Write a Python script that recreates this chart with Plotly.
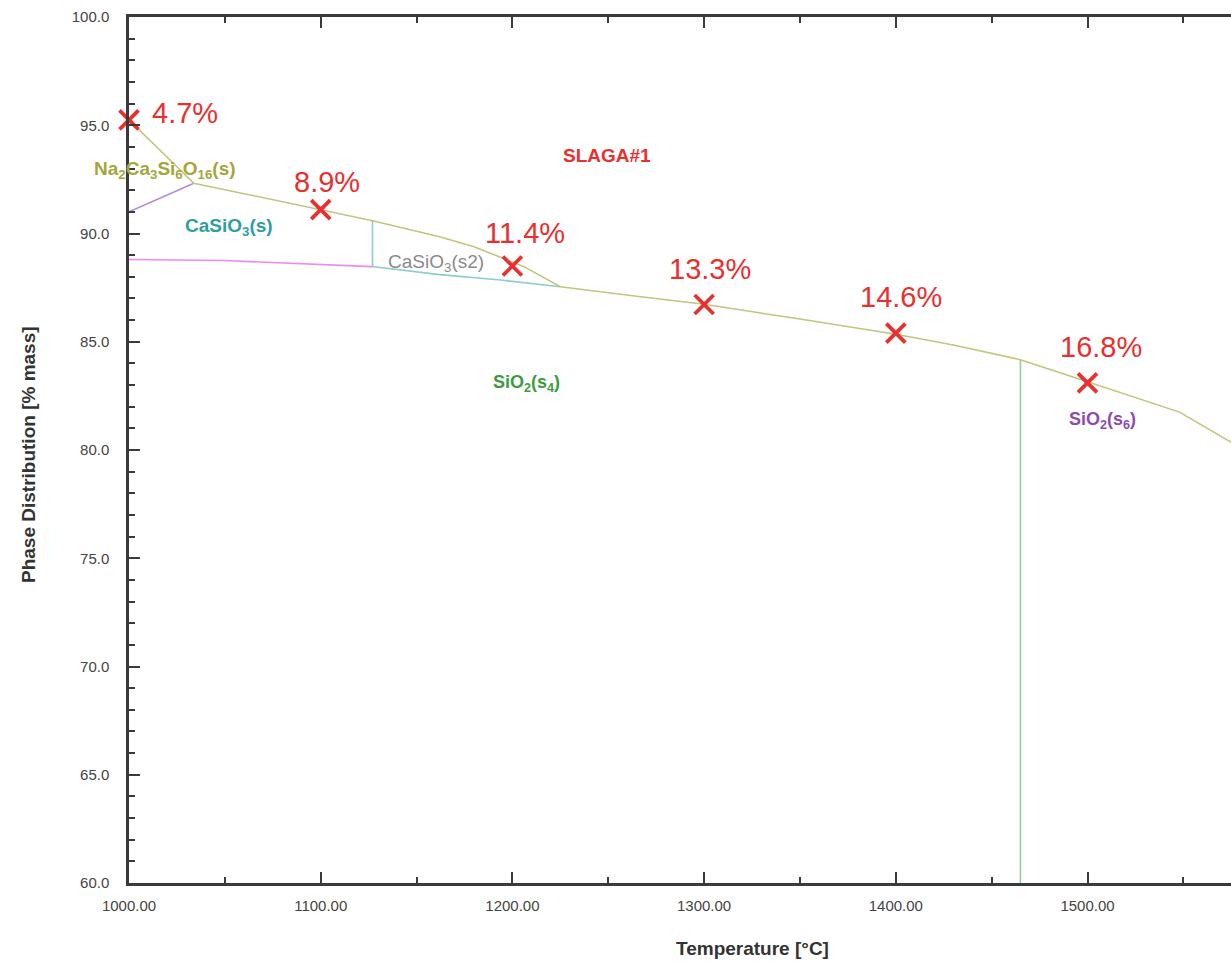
import plotly.graph_objects as go

# ---------------- data ----------------
# main (olive) boundary curve
olive_T = [1000, 1033.8, 1100, 1127, 1162, 1180, 1206, 1225, 1267, 1300, 1350, 1400, 1430, 1465, 1500, 1548, 1575]
olive_V = [95.25, 92.32, 91.10, 90.59, 89.85, 89.39, 88.47, 87.54, 87.08, 86.73, 86.05, 85.35, 84.85, 84.17, 83.15, 81.75, 80.35]

# purple segment
purple_T = [1000, 1033.8]
purple_V = [91.0, 92.32]

# magenta segment
magenta_T = [1000, 1050, 1127]
magenta_V = [88.8, 88.75, 88.47]

# cyan vertical + lower cyan boundary
cyan_T = [1127, 1127, 1162, 1194, 1225]
cyan_V = [90.59, 88.47, 88.10, 87.85, 87.54]

# green vertical boundary
green_T = [1465, 1465]
green_V = [84.17, 60.0]

# red X markers and their percentage labels
mark_T = [1000, 1100, 1200, 1300, 1400, 1500]
mark_V = [95.25, 91.10, 88.50, 86.72, 85.40, 83.10]
mark_L = ["4.7%", "8.9%", "11.4%", "13.3%", "14.6%", "16.8%"]

# region labels
region_text = ["Na<sub>2</sub>Ca<sub>3</sub>Si<sub>6</sub>O<sub>16</sub>(s)",
               "CaSiO<sub>3</sub>(s)",
               "CaSiO<sub>3</sub>(s2)",
               "SLAGA#1",
               "SiO<sub>2</sub>(s<sub>4</sub>)",
               "SiO<sub>2</sub>(s<sub>6</sub>)"]
region_T = [1019, 1052, 1160, 1249.6, 1207.4, 1508]
region_V = [92.93, 90.30, 88.64, 93.58, 83.05, 81.38]

x_tick_vals = [1000, 1100, 1200, 1300, 1400, 1500]
y_tick_vals = [60, 65, 70, 75, 80, 85, 90, 95, 100]

# ---------------- figure ----------------
W, H = 1231, 963
ML, MR, MT, MB = 129, 0, 17, 80
FONT = "Liberation Sans, Arial, sans-serif"
RED = "#e8302f"

fig = go.Figure()

def line(x, y, color, width=1.6):
    fig.add_trace(go.Scatter(x=x, y=y, mode="lines", line=dict(color=color, width=width),
                             hoverinfo="skip", showlegend=False))

line(magenta_T, magenta_V, "#ee8aee")
line(purple_T, purple_V, "#b48ad6")
line(cyan_T, cyan_V, "#8fcccc")
line(green_T, green_V, "#92d092")
line(olive_T, olive_V, "#c4c47e")

fig.add_trace(go.Scatter(
    x=mark_T, y=mark_V, mode="markers",
    marker=dict(symbol="x-thin", size=19, line=dict(width=3.8, color=RED)),
    cliponaxis=False, hoverinfo="skip", showlegend=False))

# percentage labels
offsets = [(56, 7), (6, 28), (13, 33), (6, 36), (5, 36), (13, 36)]
for t, v, lab, (dx, dy) in zip(mark_T, mark_V, mark_L, offsets):
    fig.add_annotation(x=t, y=v, text=lab, showarrow=False, xshift=dx, yshift=dy,
                       xanchor="center", yanchor="middle",
                       font=dict(family=FONT, size=29, color=RED))

region_styles = [
    dict(color="#a5a53e", size=19, bold=True),
    dict(color="#2f9e9e", size=19, bold=True),
    dict(color="#8a8a8a", size=19, bold=False),
    dict(color=RED, size=19, bold=True),
    dict(color="#3c9c3c", size=18, bold=True),
    dict(color="#8e4aae", size=18, bold=True),
]
for txt, t, v, st in zip(region_text, region_T, region_V, region_styles):
    fig.add_annotation(x=t, y=v, text=txt, showarrow=False, xanchor="center", yanchor="middle",
                       font=dict(family=FONT, size=st["size"], color=st["color"],
                                 weight="bold" if st["bold"] else "normal"))

plot_h = H - MT - MB
plot_w = W - ML - MR
# axis titles
fig.add_annotation(xref="paper", yref="paper", x=(752 - ML) / plot_w, y=-(948 - (H - MB)) / plot_h,
                   text="Temperature [°C]", showarrow=False, xanchor="center", yanchor="middle",
                   font=dict(family=FONT, size=19, color="#333333", weight="bold"))
fig.add_annotation(xref="paper", yref="paper", x=(28 - ML) / plot_w, y=((H - MB) - 455) / plot_h,
                   text="Phase Distribution [% mass]", showarrow=False, textangle=-90,
                   xanchor="center", yanchor="middle",
                   font=dict(family=FONT, size=19, color="#333333", weight="bold"))

axis_common = dict(showgrid=False, zeroline=False, showline=True, linecolor="#3a3a3a", linewidth=2.5,
                   ticks="inside", tickcolor="#3a3a3a", tickwidth=2, ticklen=11,
                   tickfont=dict(family=FONT, size=15, color="#444444"))

fig.update_xaxes(range=[1000, 1000 + plot_w / 1.917], tickvals=x_tick_vals,
                 ticktext=[f"{v:.2f}" for v in x_tick_vals], mirror="ticks",
                 minor=dict(dtick=50, tick0=1000, ticks="inside", ticklen=6, tickwidth=2, tickcolor="#3a3a3a"),
                 ticklabelstandoff=7, **axis_common)
fig.update_yaxes(range=[60, 100], tickvals=y_tick_vals,
                 ticktext=[f"{v:.1f}" for v in y_tick_vals], mirror=False,
                 minor=dict(dtick=1, tick0=60, ticks="inside", ticklen=6, tickwidth=2, tickcolor="#3a3a3a"),
                 ticklabelstandoff=14, **axis_common)

fig.update_layout(width=W, height=H, margin=dict(l=ML, r=MR, t=MT, b=MB, autoexpand=False),
                  paper_bgcolor="white", plot_bgcolor="white", showlegend=False,
                  font=dict(family=FONT))

fig.write_html("out.html")
